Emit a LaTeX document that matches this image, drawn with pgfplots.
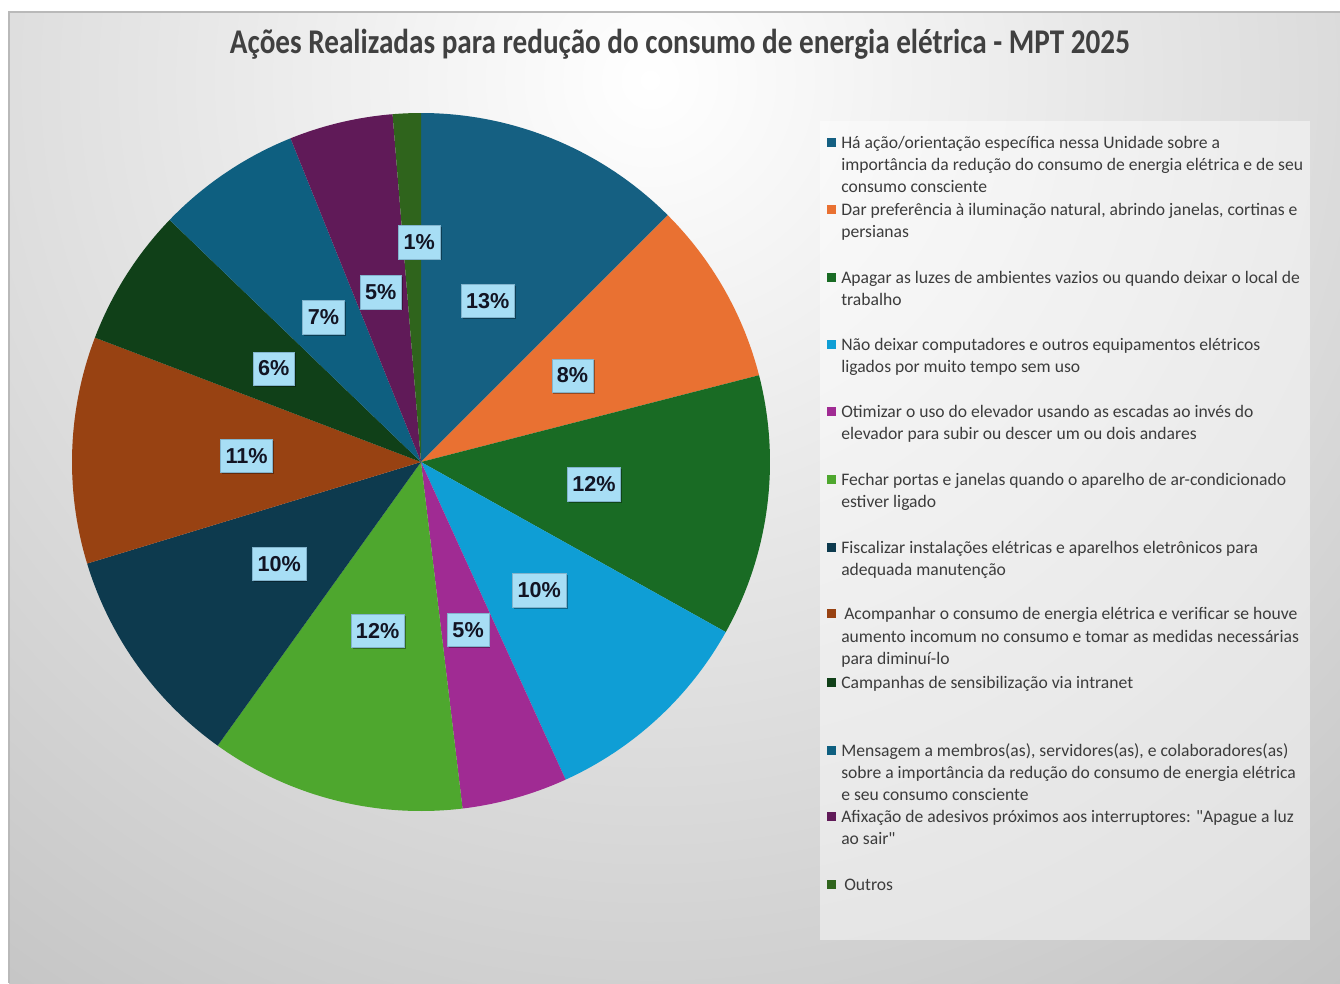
\documentclass[border=0pt]{standalone}
\usepackage{fontspec}
\setmainfont{Carlito}[Ligatures=TeXOff]
\newfontfamily\lblfont{Liberation Sans}
\usepackage{graphicx}
\usepackage{pgfplots}
\pgfplotsset{compat=1.18}
\usepackage{pgfplotstable}
\usetikzlibrary{shadows}

\definecolor{c1}{RGB}{21,96,130}
\definecolor{c2}{RGB}{233,113,50}
\definecolor{c3}{RGB}{25,107,36}
\definecolor{c4}{RGB}{15,158,213}
\definecolor{c5}{RGB}{160,43,147}
\definecolor{c6}{RGB}{78,167,46}
\definecolor{c7}{RGB}{13,58,78}
\definecolor{c8}{RGB}{152,66,18}
\definecolor{c9}{RGB}{16,64,24}
\definecolor{c10}{RGB}{14,95,128}
\definecolor{c11}{RGB}{96,26,88}
\definecolor{c12}{RGB}{47,100,28}
\definecolor{bgouter}{RGB}{193,193,193}
\definecolor{titlegray}{RGB}{64,64,64}
\definecolor{leggray}{RGB}{60,60,60}
\definecolor{lblblue}{RGB}{167,222,245}
\definecolor{lblborder}{RGB}{130,180,205}
\definecolor{lbltext}{RGB}{18,20,35}

% value (percent of the pie), printed label, label radius, label angle shift, colour
\pgfplotstableread{
val  lbl r    da   col
12.5 13  0.50 0    c1
8.5  8   0.50 0    c2
12.1 12  0.50 0    c3
10.1 10  0.50 0    c4
4.9  5   0.50 0    c5
11.8 12  0.50 0    c6
10.4 10  0.50 0    c7
10.5 11  0.50 0    c8
6.4  6   0.50 0    c9
6.7  7   0.50 0    c10
4.8  5   0.50 0    c11
1.3  1   0.63 1.9  c12
}\piedata

\tikzset{
  lblbox/.style={fill=lblblue, draw=lblborder, line width=0.4pt,
    inner xsep=3.8pt, inner ysep=0pt, minimum height=25pt, text=lbltext,
    font=\lblfont\bfseries\fontsize{16.2}{19}\selectfont,
    drop shadow={shadow xshift=1.2pt, shadow yshift=-1.2pt, opacity=0.35, fill=black}},
  legtext/.style={anchor=base west, inner sep=0pt, text=leggray,
    font=\fontsize{13.2}{15}\selectfont},
}

\begin{document}
\begin{tikzpicture}
\begin{scope}[x=0.75pt, y=-0.75pt]
\useasboundingbox (0,0) rectangle (1340,983);
\fill[white] (0,0) rectangle (1340,983);
% background
\begin{scope}
  \clip (9,12) rectangle (1340,983);
  \fill[bgouter] (9,12) rectangle (1340,983);
  \shade[inner color=white, outer color=bgouter] (650,80) circle (1200);
\end{scope}
\draw[gray!55, line width=0.8pt] (9,983) -- (9,12) -- (1340,12);

% title
\node[anchor=base, text=titlegray, inner sep=0pt] at (680,53)
  {\resizebox{675pt}{\height}{\fontsize{26}{30}\selectfont\bfseries Ações Realizadas para redução do consumo de energia elétrica - MPT 2025}};
\end{scope}

% pie (centre at px (421,462), radius 349 px)
\begin{axis}[at={(315.75pt,-346.5pt)}, anchor=center, x=261.75pt, y=261.75pt,
  xmin=-1, xmax=1, ymin=-1, ymax=1, hide axis, clip=false]
\def\cum{0}
\pgfplotsforeachungrouped \i in {0,...,11}{
  \pgfplotstablegetelem{\i}{val}\of\piedata \let\sval\pgfplotsretval
  \pgfplotstablegetelem{\i}{col}\of\piedata \let\scol\pgfplotsretval
  \pgfmathsetmacro\angA{90-3.6*\cum}
  \pgfmathsetmacro\angB{90-3.6*(\cum+\sval)}
  \edef\temp{\noexpand\fill[\scol] (axis cs:0,0) -- (axis cs:{cos(\angA)},{sin(\angA)}) arc[start angle=\angA, end angle=\angB, radius=261.75pt] -- cycle;}
  \temp
  \pgfmathsetmacro\cum{\cum+\sval}
}
\def\cum{0}
\pgfplotsforeachungrouped \i in {0,...,11}{
  \pgfplotstablegetelem{\i}{val}\of\piedata \let\sval\pgfplotsretval
  \pgfplotstablegetelem{\i}{lbl}\of\piedata \let\slbl\pgfplotsretval
  \pgfplotstablegetelem{\i}{r}\of\piedata \let\srad\pgfplotsretval
  \pgfplotstablegetelem{\i}{da}\of\piedata \let\sda\pgfplotsretval
  \pgfmathsetmacro\angM{90-3.6*(\cum+\sval/2)-\sda}
  \edef\temp{\noexpand\node[lblbox] at (axis cs:{\srad*cos(\angM)},{\srad*sin(\angM)}) {\slbl\noexpand\%};}
  \temp
  \pgfmathsetmacro\cum{\cum+\sval}
}
\end{axis}

\begin{scope}[x=0.75pt, y=-0.75pt]
% legend
\fill[white, opacity=0.45] (820,121) rectangle (1310,940);
\foreach \y/\c in {142/c1,209/c2,277/c3,344/c4,411/c5,479/c6,547/c7,613/c8,682/c9,750/c10,816/c11,884/c12}
  \fill[\c] (826.5,\y-4.5) rectangle (835.5,\y+4.5);
\node[legtext] at (841,148) {Há ação/orientação específica nessa Unidade sobre a};
\node[legtext] at (841,170) {importância da redução do consumo de energia elétrica e de seu};
\node[legtext] at (841,192) {consumo consciente};
\node[legtext] at (841,215) {Dar preferência à iluminação natural, abrindo janelas, cortinas e};
\node[legtext] at (841,237) {persianas};
\node[legtext] at (841,283) {Apagar as luzes de ambientes vazios ou quando deixar o local de};
\node[legtext] at (841,305) {trabalho};
\node[legtext] at (841,350) {Não deixar computadores e outros equipamentos elétricos};
\node[legtext] at (841,372) {ligados por muito tempo sem uso};
\node[legtext] at (841,417) {Otimizar o uso do elevador usando as escadas ao invés do};
\node[legtext] at (841,439) {elevador para subir ou descer um ou dois andares};
\node[legtext] at (841,485) {Fechar portas e janelas quando o aparelho de ar-condicionado};
\node[legtext] at (841,507) {estiver ligado};
\node[legtext] at (841,553) {Fiscalizar instalações elétricas e aparelhos eletrônicos para};
\node[legtext] at (841,575) {adequada manutenção};
\node[legtext] at (844,619) {Acompanhar o consumo de energia elétrica e verificar se houve};
\node[legtext] at (841,642) {aumento incomum no consumo e tomar as medidas necessárias};
\node[legtext] at (841,664) {para diminuí-lo};
\node[legtext] at (841,688) {Campanhas de sensibilização via intranet};
\node[legtext] at (841,756) {Mensagem a membros(as), servidores(as), e colaboradores(as)};
\node[legtext] at (841,778) {sobre a importância da redução do consumo de energia elétrica};
\node[legtext] at (841,800) {e seu consumo consciente};
\node[legtext] at (841,822) {Afixação de adesivos próximos aos interruptores: "Apague a luz};
\node[legtext] at (841,844) {ao sair"};
\node[legtext] at (844,890) {Outros};
\end{scope}
\end{tikzpicture}
\end{document}
